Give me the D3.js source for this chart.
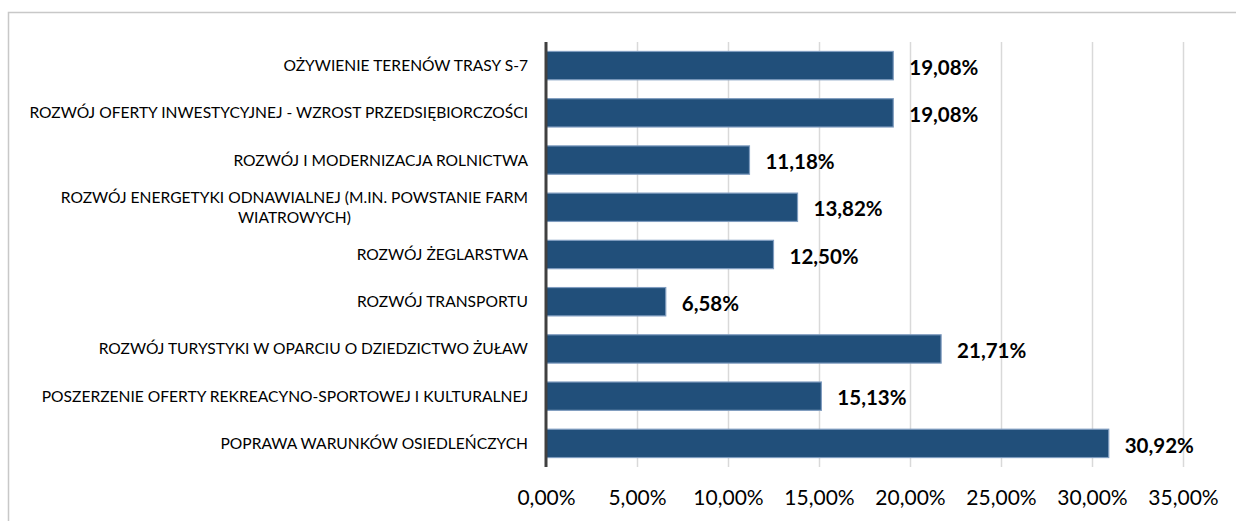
<!DOCTYPE html>
<html lang="pl">
<head>
    <meta charset="UTF-8">
    <title>Kierunki rozwoju</title>
    <script src="https://d3js.org/d3.v7.min.js"></script>
    <style>
        body { margin: 0; background: #fff; }
        svg { display: block; font-family: Lato, "Open Sans", sans-serif; }
    </style>
</head>
<body>
    <svg id="chart" width="1236" height="521"></svg>

    <script>
        // Data
        const categories = [
            "OŻYWIENIE TERENÓW TRASY S-7",
            "ROZWÓJ OFERTY INWESTYCYJNEJ - WZROST PRZEDSIĘBIORCZOŚCI",
            "ROZWÓJ I MODERNIZACJA ROLNICTWA",
            "ROZWÓJ ENERGETYKI ODNAWIALNEJ (M.IN. POWSTANIE FARM|WIATROWYCH)",
            "ROZWÓJ ŻEGLARSTWA",
            "ROZWÓJ TRANSPORTU",
            "ROZWÓJ TURYSTYKI W OPARCIU O DZIEDZICTWO ŻUŁAW",
            "POSZERZENIE OFERTY REKREACYNO-SPORTOWEJ I KULTURALNEJ",
            "POPRAWA WARUNKÓW OSIEDLEŃCZYCH"
        ];
        const values = [19.08, 19.08, 11.18, 13.82, 12.50, 6.58, 21.71, 15.13, 30.92];
        const xTicks = [0, 5, 10, 15, 20, 25, 30, 35];

        const width = 1236;
        const height = 521;
        const plot = { left: 546, right: 1183, top: 42, bottom: 467 };

        const fmt = v => v.toFixed(2).replace(".", ",") + "%";

        const svg = d3.select("#chart");

        // outer frame (runs off the right and bottom edge)
        svg.append("rect")
            .attr("x", 8.5).attr("y", 12.5)
            .attr("width", width).attr("height", height)
            .attr("fill", "none")
            .attr("stroke", "#c8c8c8")
            .attr("stroke-width", 1.5);

        const x = d3.scaleLinear()
            .domain([0, 35])
            .range([plot.left, plot.right]);

        const y = d3.scaleBand()
            .domain(categories)
            .range([plot.top, plot.bottom])
            .paddingInner(0.4)
            .paddingOuter(0.2);

        // gridlines
        svg.append("g")
            .attr("transform", "translate(0," + plot.bottom + ")")
            .call(d3.axisBottom(x).tickValues(xTicks.slice(1)).tickSize(-(plot.bottom - plot.top)).tickFormat(""))
            .call(g => g.select(".domain").remove())
            .call(g => g.selectAll("line").attr("stroke", "#d9d9d9").attr("stroke-width", 1.5));

        // tick labels
        svg.append("g")
            .attr("transform", "translate(0," + plot.bottom + ")")
            .call(d3.axisBottom(x).tickValues(xTicks).tickSize(0).tickPadding(0).tickFormat(fmt))
            .call(g => g.select(".domain").remove())
            .call(g => g.selectAll("text")
                .attr("y", 31)
                .attr("dy", "0.35em")
                .attr("fill", "#000")
                .style("font-size", "21px")
                .style("font-family", "Lato, 'Open Sans', sans-serif"));

        // bars
        svg.append("g")
            .selectAll("rect")
            .data(values)
            .join("rect")
            .attr("x", x(0))
            .attr("y", (d, i) => y(categories[i]))
            .attr("width", d => x(d) - x(0))
            .attr("height", y.bandwidth())
            .attr("fill", "#214f7a")
            .attr("stroke", "#7f9cbf")
            .attr("stroke-width", 1.2);

        // value labels
        svg.append("g")
            .selectAll("text")
            .data(values)
            .join("text")
            .attr("x", d => x(d) + 16)
            .attr("y", (d, i) => y(categories[i]) + y.bandwidth() / 2 + 2)
            .attr("dy", "0.35em")
            .attr("font-size", 20.5)
            .attr("font-weight", "bold")
            .attr("fill", "#000")
            .text(fmt);

        // category labels (multi-line labels centred on a common axis)
        const labelRight = 528;
        const labels = svg.append("g")
            .selectAll("text")
            .data(categories)
            .join("text")
            .attr("font-size", 15.6)
            .attr("fill", "#000");

        labels.each(function (d) {
            const lines = d.split("|");
            const t = d3.select(this);
            const cy = y(d) + y.bandwidth() / 2;
            if (lines.length === 1) {
                t.attr("x", labelRight).attr("y", cy).attr("dy", "0.35em")
                    .attr("text-anchor", "end").text(d);
            } else {
                const lh = 20;
                const spans = lines.map((l, k) => t.append("tspan")
                    .attr("y", cy - lh / 2 + k * lh)
                    .attr("dy", "0.35em")
                    .text(l));
                const w = d3.max(spans, s => s.node().getComputedTextLength());
                spans.forEach(s => s.attr("x", labelRight - w / 2).attr("text-anchor", "middle"));
            }
        });

        // vertical axis line
        svg.append("line")
            .attr("x1", plot.left).attr("x2", plot.left)
            .attr("y1", plot.top).attr("y2", plot.bottom)
            .attr("stroke", "#404040")
            .attr("stroke-width", 3);
    </script>
</body>
</html>
